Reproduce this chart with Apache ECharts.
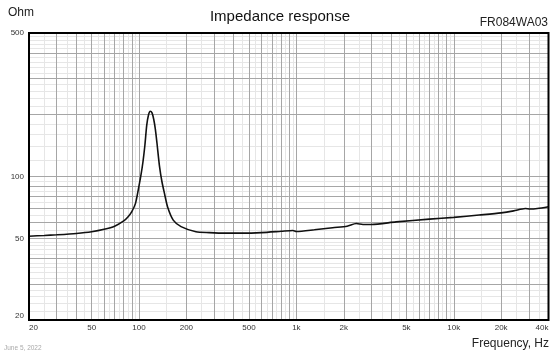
<!DOCTYPE html>
<html>
<head>
<meta charset="utf-8">
<script src="https://cdn.jsdelivr.net/npm/echarts@6/dist/echarts.min.js"></script>
<style>
html,body{margin:0;padding:0;background:#fff;}
#chart{width:560px;height:356px;}
</style>
</head>
<body>
<div id="chart"></div>
<script>
// ---- data ----
const freqHz = [20, 25, 30, 40, 50, 60, 70, 80, 85, 90, 95, 100, 103, 106, 109, 112, 115, 118, 121, 124, 127, 130, 135, 140, 145, 152, 165, 185, 230, 280, 350, 450, 600, 800, 950, 1000, 1300, 1700, 2100, 2400, 2650, 3000, 4300, 7000, 10000, 14500, 20000, 24000, 28500, 30500, 34000, 40000];
const impedanceOhm = [51.2, 51.6, 52.0, 52.8, 53.8, 55.3, 57.3, 60.8, 63.5, 67.5, 74, 90, 102, 118, 142, 178, 200, 208, 204, 190, 170, 146, 112, 94, 83, 71, 61.3, 57, 53.8, 53.3, 53.0, 53.0, 53.3, 54.1, 54.6, 54.0, 55.0, 56.3, 57.2, 59.0, 58.4, 58.4, 60.1, 62.0, 63.2, 64.9, 66.5, 68.0, 69.9, 69.4, 69.8, 71.2];

const xTickValues = [20, 50, 100, 200, 500, 1000, 2000, 5000, 10000, 20000, 40000];
const xTickLabels = ['20', '50', '100', '200', '500', '1k', '2k', '5k', '10k', '20k', '40k'];
const yTickValues = [20, 50, 100, 500];
const yTickLabels = ['20', '50', '100', '500'];

const xMajorGrid = [30, 40, 50, 60, 70, 80, 90, 100, 200, 300, 400, 500, 600, 700, 800, 900, 1000, 2000, 3000, 4000, 5000, 6000, 7000, 8000, 9000, 10000, 20000, 30000];
const xMinorGrid = [25, 35, 45, 55, 65, 75, 85, 95, 150, 250, 350, 450, 550, 650, 750, 850, 950, 1500, 2500, 3500, 4500, 5500, 6500, 7500, 8500, 9500, 15000, 25000, 35000];
const yMajorGrid = [30, 40, 50, 60, 70, 80, 90, 100, 200, 300, 400];
const yMinorGrid = [22, 24, 26, 28, 32, 34, 36, 38, 42, 44, 46, 48, 55, 65, 75, 85, 95, 120, 140, 160, 180, 220, 240, 260, 280, 320, 340, 360, 380, 420, 440, 460, 480];

const FONT = 'Liberation Sans, Arial, sans-serif';

const curve = freqHz.map((f, i) => [f, impedanceOhm[i]]);

function gridLines(xs, ys) {
  return xs.map(v => ({ xAxis: v })).concat(ys.map(v => ({ yAxis: v })));
}

const xLabelItems = xTickValues.map((v, i) => {
  const lab = { formatter: xTickLabels[i] };
  if (i === 0) lab.align = 'left';
  if (i === xTickValues.length - 1) lab.align = 'right';
  return { xAxis: v, label: lab };
});
const yLabelItems = yTickValues.map((v, i) => {
  const lab = { formatter: yTickLabels[i] };
  if (i === 0) lab.verticalAlign = 'bottom';
  return { yAxis: v, label: lab };
});

const chart = echarts.init(document.getElementById('chart'), null, { renderer: 'canvas' });
chart.setOption({
  animation: false,
  backgroundColor: '#fff',
  title: [
    { text: 'Impedance response', left: 'center', top: 9, padding: 0,
      textStyle: { fontSize: 15, fontWeight: 'normal', color: '#111', fontFamily: FONT } },
    { text: 'Ohm', left: 8, top: 7, padding: 0,
      textStyle: { fontSize: 12, fontWeight: 'normal', color: '#222', fontFamily: FONT } },
    { text: 'FR084WA03', right: 12, top: 17, padding: 0,
      textStyle: { fontSize: 12, fontWeight: 'normal', color: '#222', fontFamily: FONT } },
    { text: 'Frequency, Hz', right: 11, top: 338, padding: 0,
      textStyle: { fontSize: 12, fontWeight: 'normal', color: '#222', fontFamily: FONT } },
    { text: 'June 5, 2022', left: 4, top: 345, padding: 0,
      textStyle: { fontSize: 6.5, fontWeight: 'normal', color: '#aaa', fontFamily: FONT } }
  ],
  grid: { left: 29, top: 33, right: 11.5, bottom: 36, show: true, z: 4,
    borderColor: '#000', borderWidth: 2, backgroundColor: 'transparent' },
  xAxis: { type: 'log', logBase: 10, min: 20, max: 40000,
    axisLine: { show: false }, axisTick: { show: false }, axisLabel: { show: false },
    splitLine: { show: false }, minorSplitLine: { show: false } },
  yAxis: { type: 'log', logBase: 10, min: 20, max: 500,
    axisLine: { show: false }, axisTick: { show: false }, axisLabel: { show: false },
    splitLine: { show: false }, minorSplitLine: { show: false } },
  series: [
    { name: 'minorGrid', type: 'line', data: [], silent: true, z: 1,
      markLine: { silent: true, z: 1, symbol: ['none', 'none'], animation: false,
        label: { show: false }, emphasis: { disabled: true },
        lineStyle: { color: '#e6e6e6', width: 1, type: 'solid' },
        data: gridLines(xMinorGrid, yMinorGrid) } },
    { name: 'majorGrid', type: 'line', data: [], silent: true, z: 1,
      markLine: { silent: true, z: 2, symbol: ['none', 'none'], animation: false,
        label: { show: false }, emphasis: { disabled: true },
        lineStyle: { color: '#a6a6a6', width: 1, type: 'solid' },
        data: gridLines(xMajorGrid, yMajorGrid) } },
    { name: 'xTickLabels', type: 'line', data: [], silent: true,
      markLine: { silent: true, z: 2, symbol: ['none', 'none'], animation: false,
        lineStyle: { color: 'rgba(0,0,0,0)', width: 1, opacity: 1 }, emphasis: { disabled: true },
        label: { show: true, position: 'start', distance: 4, fontSize: 8, color: '#333', opacity: 1,
          fontFamily: FONT, align: 'center', verticalAlign: 'top' },
        data: xLabelItems } },
    { name: 'yTickLabels', type: 'line', data: [], silent: true,
      markLine: { silent: true, z: 2, symbol: ['none', 'none'], animation: false,
        lineStyle: { color: 'rgba(0,0,0,0)', width: 1, opacity: 1 }, emphasis: { disabled: true },
        label: { show: true, position: 'start', distance: 5, fontSize: 8, color: '#333', opacity: 1,
          fontFamily: FONT, align: 'right', verticalAlign: 'middle' },
        data: yLabelItems } },
    { name: 'Impedance', type: 'line', data: curve, z: 3, smooth: 0.25,
      showSymbol: false, symbol: 'none', silent: true,
      lineStyle: { color: '#111', width: 1.6 } }
  ]
});
</script>
</body>
</html>
